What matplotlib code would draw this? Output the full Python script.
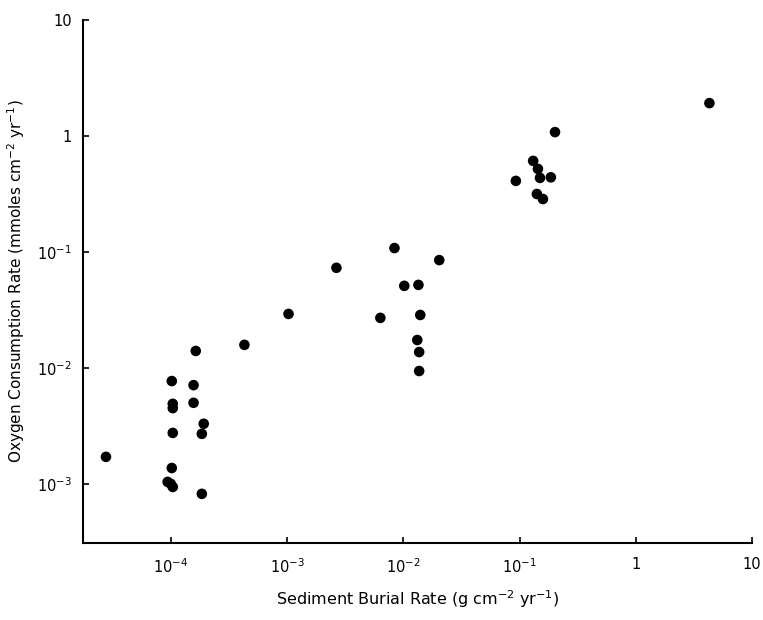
import matplotlib
matplotlib.use('Agg')
import matplotlib.pyplot as plt

# sediment burial rate (g cm-2 yr-1) and oxygen consumption rate (mmoles cm-2 yr-1)
burial = [2.77e-5, 9.4e-5, 1.0e-4, 1.04e-4, 1.02e-4, 1.04e-4, 1.04e-4, 1.04e-4,
          1.02e-4, 1.57e-4, 1.57e-4, 1.92e-4, 1.85e-4, 1.85e-4, 1.64e-4, 4.3e-4,
          1.03e-3, 2.66e-3, 8.4e-3, 6.35e-3, 1.02e-2, 1.35e-2, 1.40e-2, 1.32e-2,
          1.37e-2, 1.37e-2, 2.04e-2, 9.3e-2, 0.202, 0.131, 0.144, 0.150,
          0.186, 0.141, 0.159, 4.3]
oxygen = [1.71e-3, 1.04e-3, 1.0e-3, 9.4e-4, 1.37e-3, 2.75e-3, 4.9e-3, 4.5e-3,
          7.7e-3, 7.1e-3, 5.0e-3, 3.3e-3, 2.7e-3, 8.2e-4, 1.40e-2, 1.58e-2,
          2.92e-2, 7.3e-2, 0.108, 2.70e-2, 5.1e-2, 5.2e-2, 2.86e-2, 1.74e-2,
          1.37e-2, 9.4e-3, 8.5e-2, 0.41, 1.08, 0.61, 0.52, 0.435,
          0.44, 0.316, 0.286, 1.92]

xticks = [1e-4, 1e-3, 1e-2, 1e-1, 1, 10]
xticklabels = ['$10^{-4}$', '$10^{-3}$', '$10^{-2}$', '$10^{-1}$', '1', '10']
yticks = [1e-3, 1e-2, 1e-1, 1, 10]
yticklabels = ['$10^{-3}$', '$10^{-2}$', '$10^{-1}$', '1', '10']

fig = plt.figure(figsize=(7.63, 6.2), dpi=100)
ax = fig.add_axes([0.1088, 0.1242, 0.8768, 0.8435])

ax.scatter(burial, oxygen, s=58, color='black', edgecolors='none', zorder=3)

ax.set_xscale('log')
ax.set_yscale('log')
ax.set_xlim(10 ** -4.755, 10)
ax.set_ylim(10 ** -3.51, 10)

ax.set_xticks(xticks)
ax.set_xticklabels(xticklabels)
ax.set_yticks(yticks)
ax.set_yticklabels(yticklabels)
ax.minorticks_off()
ax.tick_params(direction='in', length=4, width=1.2, labelsize=10.5)
ax.tick_params(axis='x', pad=10)
ax.tick_params(axis='y', pad=8)

for side in ['top', 'right']:
  ax.spines[side].set_visible(False)
for side in ['left', 'bottom']:
  ax.spines[side].set_linewidth(1.5)

ax.set_xlabel('Sediment Burial Rate (g cm$^{-2}$ yr$^{-1}$)', fontsize=11.5, labelpad=9)
ax.set_ylabel('Oxygen Consumption Rate (mmoles cm$^{-2}$ yr$^{-1}$)', fontsize=11, labelpad=7)

fig.savefig('out.png', dpi=100)
